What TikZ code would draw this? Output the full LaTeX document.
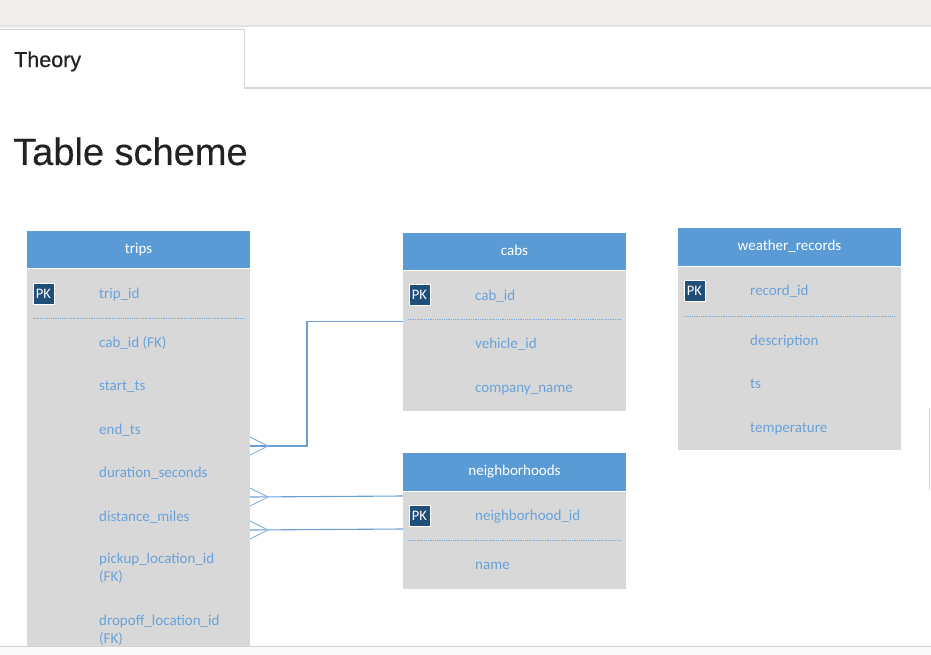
\documentclass[tikz,border=0pt]{standalone}
\usepackage{fontspec}
\setmainfont{Liberation Sans}
\newfontfamily\calfont{Carlito}
\newfontfamily\tabfont[FakeBold=0.5]{Liberation Sans}
\newfontfamily\titlefont[FakeBold=0.25]{Liberation Sans}
\definecolor{topband}{HTML}{F0EFEC}
\definecolor{bandedge}{HTML}{E3E2DF}
\definecolor{tabline}{HTML}{D2D2D2}
\definecolor{headblue}{HTML}{5B9BD5}
\definecolor{bodygray}{HTML}{D8D8D8}
\definecolor{fieldblue}{HTML}{6AA2DA}
\definecolor{pkblue}{HTML}{1F4E79}
\definecolor{dotblue}{HTML}{7FA9D9}
\definecolor{connblue}{HTML}{6A9FD6}
\definecolor{titlegray}{HTML}{222222}
\tikzset{
  thead/.style={fill=headblue, draw=none, inner sep=0pt, outer sep=0pt, anchor=north west, minimum width=223pt},
  tbody/.style={fill=bodygray, draw=none, inner sep=0pt, outer sep=0pt, anchor=north west, minimum width=223pt},
  htext/.style={text=white, font=\calfont\fontsize{15}{17}\selectfont, inner sep=0pt, anchor=base},
  fld/.style={text=fieldblue, font=\calfont\fontsize{15}{17}\selectfont, inner sep=0pt, anchor=base west},
  pkbox/.style={fill=pkblue, draw=white, line width=0.8pt, minimum width=21pt, minimum height=21pt, inner sep=0pt, text=white, font=\calfont\fontsize{14.5}{15}\selectfont},
  dotsep/.style={dotblue, line width=0.7pt, dash pattern=on 1pt off 0.8pt},
  conn/.style={connblue, line width=1.1pt},
  crow/.style={connblue!80, line width=0.9pt}
}
\begin{document}
\begin{tikzpicture}[x=1pt,y=-1pt]
\useasboundingbox (0,0) rectangle (931,655);
\fill[white] (0,0) rectangle (931,655);
% browser top band and tab
\fill[topband] (0,0) rectangle (931,25);
\fill[bandedge] (0,25) rectangle (931,27);
\fill[white!97!black] (0,27) rectangle (244,29);
\draw[tabline, line width=1pt] (0,29.5) -- (244,29.5) -- (244,88);
\draw[tabline!90, line width=2pt] (244,88) -- (931,88);
\node[anchor=base west, inner sep=0pt, text=titlegray, font=\tabfont\fontsize{21.5}{24}\selectfont] (tab) at (14,67) {Theory};
\node[anchor=base west, inner sep=0pt, text=titlegray, font=\titlefont\fontsize{38}{44}\selectfont] (title) at (13,165) {Table scheme};

% ---------------- trips ----------------
\node[tbody, minimum height=378pt] (tripsB) at (27,268) {};
\node[thead, minimum height=37pt] (tripsH) at (27,231) {};
\draw[white, line width=1pt] (27,268) -- (250,268);
\node[htext] (tripsT) at (138.5,253.5) {trips};
\node[pkbox] (tripsPK) at (43.5,293.5) {PK};
\node[fld] (t1) at (99,298) {trip\_id};
\draw[dotsep] (33,318.5) -- (244,318.5);
\node[fld] (t2) at (99,347.5) {cab\_id (FK)};
\node[fld] (t3) at (99,390) {start\_ts};
\node[fld] (t4) at (99,434) {end\_ts};
\node[fld] (t5) at (99,477) {duration\_seconds};
\node[fld] (t6) at (99,521) {distance\_miles};
\node[fld] (t7) at (99,563.5) {pickup\_location\_id};
\node[fld] (t7b) at (99,581.5) {(FK)};
\node[fld] (t8) at (99,625.5) {dropoff\_location\_id};
\node[fld] (t8b) at (99,643) {(FK)};

% ---------------- cabs ----------------
\node[tbody, minimum height=141pt] (cabsB) at (403,270) {};
\node[thead, minimum height=37pt] (cabsH) at (403,233) {};
\draw[white, line width=1pt] (403,270) -- (626,270);
\node[htext] (cabsT) at (514.5,255) {cabs};
\node[pkbox] (cabsPK) at (419.5,294.5) {PK};
\node[fld] (c1) at (475,300) {cab\_id};
\draw[dotsep] (408,319.5) -- (621,319.5);
\node[fld] (c2) at (475,348.5) {vehicle\_id};
\node[fld] (c3) at (475,392) {company\_name};

% ---------------- weather_records ----------------
\node[tbody, minimum height=184pt] (wB) at (678,266) {};
\node[thead, minimum height=38pt] (wH) at (678,228) {};
\draw[white, line width=1pt] (678,266) -- (901,266);
\node[htext] (wT) at (789.5,250.5) {weather\_records};
\node[pkbox] (wPK) at (694.5,290.5) {PK};
\node[fld] (w1) at (750,295.5) {record\_id};
\draw[dotsep] (683,316) -- (895,316);
\node[fld] (w2) at (750,345) {description};
\node[fld] (w3) at (750,388) {ts};
\node[fld] (w4) at (750,432) {temperature};

% ---------------- neighborhoods ----------------
\node[tbody, minimum height=98pt] (nB) at (403,491) {};
\node[thead, minimum height=38pt] (nH) at (403,453) {};
\draw[white, line width=1pt] (403,491) -- (626,491);
\node[htext] (nT) at (514.5,475) {neighborhoods};
\node[pkbox] (nPK) at (419.5,515.5) {PK};
\node[fld] (n1) at (475,520.5) {neighborhood\_id};
\draw[dotsep] (408,540) -- (621,540);
\node[fld] (n2) at (475,569) {name};

% ---------------- connectors ----------------
\coordinate (cabsL) at (403,321.5);
\coordinate (bend) at (307,446);
\coordinate (tripsR1) at (250,446);
\coordinate (nL1) at (403,496);
\coordinate (tripsR2) at (250,497);
\coordinate (nL2) at (403,529);
\coordinate (tripsR3) at (250,530);
\draw[conn] (cabsL) -| (bend) -- (tripsR1);
\draw[conn] (nL1) -- (tripsR2);
\draw[conn] (nL2) -- (tripsR3);
\draw[crow] (tripsR1) ++(0,-9) -- ++(18,9) -- ++(-18,9);
\draw[crow] (tripsR2) ++(0,-9) -- ++(18,9) -- ++(-18,9);
\draw[crow] (tripsR3) ++(0,-9) -- ++(18,9) -- ++(-18,9);

% page bottom edge and right-side bar
\fill[white!98!black] (0,647) rectangle (931,655);
\draw[tabline, line width=1.2pt] (0,646.5) -- (931,646.5);
\draw[tabline, line width=1.5pt] (929.5,408) -- (929.5,490);
\end{tikzpicture}
\end{document}
